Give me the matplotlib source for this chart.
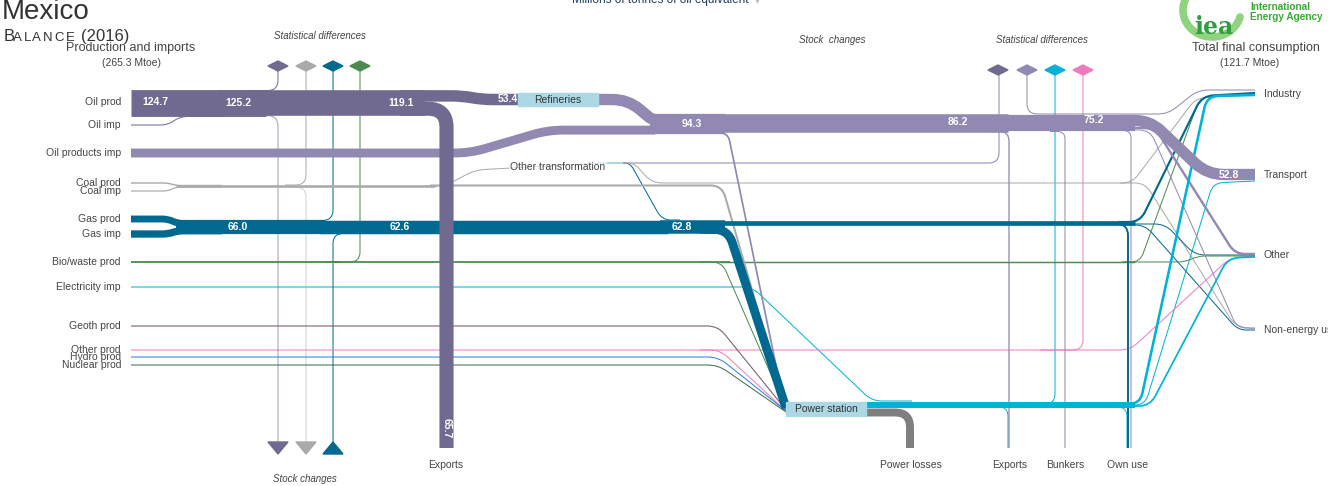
import numpy as np
import matplotlib
matplotlib.use('Agg')
import matplotlib.pyplot as plt
from matplotlib.path import Path
from matplotlib.patches import PathPatch, Rectangle, Polygon

plt.rcParams['font.family'] = ['Liberation Sans', 'DejaVu Sans']

# %% data, Mtoe
country, year = 'Mexico', 2016
total_supply, total_tfc = 265.3, 121.7

source_labels = ['Oil prod', 'Oil imp', 'Oil products imp', 'Coal prod', 'Coal imp',
                 'Gas prod', 'Gas imp', 'Bio/waste prod', 'Electricity imp',
                 'Geoth prod', 'Other prod', 'Hydro prod', 'Nuclear prod']
sink_labels = ['Industry', 'Transport', 'Other', 'Non-energy use']
bottom_labels = ['Exports', 'Power losses', 'Exports', 'Bunkers', 'Own use']

crude = {'oil_prod': 124.7, 'oil_imp': 0.5, 'crude_a': 125.2, 'crude_stat': 0.5,
         'crude_stock': 5.6, 'crude_b': 119.1, 'crude_ref': 53.4, 'crude_exp': 65.7,
         'crude_ot': 1.0}
products = {'prod_imp': 41.4, 'ref_out': 52.9, 'prod_a': 94.3, 'prod_power': 8.1,
            'prod_b': 86.2, 'prod_exp': 6.0, 'prod_stat': 1.4, 'bunkers': 3.0,
            'prod_c': 75.2, 'prod_trans': 52.8, 'prod_other': 11.0, 'prod_ne': 4.5,
            'prod_own': 2.0}
coal = {'coal_prod': 6.5, 'coal_imp': 5.5, 'coal_a': 12.0, 'coal_stat': 0.3,
        'coal_stock': 0.5, 'coal_ot': 1.5, 'coal_power': 9.5, 'coke_ind': 1.0,
        'coke_ne': 0.3}
gas = {'gas_prod': 32.0, 'gas_imp': 34.0, 'gas_a': 66.0, 'gas_stat': 3.8,
       'gas_stock': 0.4, 'gas_b': 62.6, 'gas_ot': 0.2, 'gas_c': 62.8, 'gas_power': 41.0,
       'gas_d': 21.8, 'gas_own': 9.0, 'gas_ind': 10.0, 'gas_other': 1.5, 'gas_ne': 1.3}
bio = {'bio_a': 8.5, 'bio_stat': 0.3, 'bio_b': 8.2, 'bio_power': 1.4, 'bio_c': 6.8,
       'bio_ind': 3.0, 'bio_other': 3.8}
minor = {'elec_imp': 0.3, 'geoth': 5.0, 'other_prod': 1.3, 'other_power': 0.5,
         'other_stat': 0.3, 'hydro': 2.6, 'nuclear': 2.8}
power = {'elec_out': 27.8, 'losses': 37.0, 'elec_stat': 0.4, 'elec_exp': 0.8,
         'elec_own': 1.5, 'elec_ind': 12.0, 'elec_trans': 0.4, 'elec_other': 8.0}

labelled = ['oil_prod', 'crude_a', 'crude_b', 'crude_ref', 'prod_a', 'prod_b',
            'prod_c', 'prod_trans', 'gas_a', 'gas_b', 'gas_c']

# %% layout (pixels) and styles
K = 0.215  # px per Mtoe
C = dict(crude='#716a90', prod='#9189b1', coal='#aaaaaa', gas='#00698f',
         bio='#4b8b50', elec='#00b3d6', geoth='#7c5d6c', otherp='#f07ac0',
         hydro='#2b7fe0', nuclear='#3f6b4d', losses='#7f7f7f', node='#acd8e5',
         ot='#8c86aa')

ROUTES = {
    'oil_prod': ('crude', [(131, 103), (222, 103)]),
    'oil_imp': ('crude', [(131, 125), (168, 125), (180, 116.5), (222, 116.5)]),
    'crude_a': ('crude', [(218, 103), (266, 103)]),
    'crude_stat': ('crude', [(250, 90.5), (278, 90.5), (278, 66)]),
    'crude_stock': ('crude', [(250, 115.5), (278, 115.5), (278, 442)]),
    'crude_b': ('crude', [(262, 103), (425, 103)]),
    'crude_ref': ('crude', [(400, 95.9), (462, 95.9), (482, 99.5), (522, 99.5)]),
    'crude_exp': ('crude', [(400, 108.7), (446.5, 108.7), (446.5, 448)]),
    'crude_ot': ('ot', [(622, 163), (999, 163), (999, 70)]),
    'prod_imp': ('prod', [(131, 153), (470, 153), (548, 130.1), (655, 130.1)]),
    'ref_out': ('prod', [(596, 99.5), (628, 99.5), (652, 119.7), (660, 119.7)]),
    'prod_a': ('prod', [(650, 124), (725, 124)]),
    'prod_power': ('prod', [(712, 133), (728, 133), (784, 404)]),
    'prod_b': ('prod', [(720, 123), (1008, 123)]),
    'prod_exp': ('prod', [(990, 131.5), (1009, 131.5), (1009, 448)]),
    'prod_stat': ('prod', [(1027, 70), (1027, 114), (1168, 114), (1198, 90), (1255, 90)]),
    'bunkers': ('prod', [(1050, 131.5), (1065, 131.5), (1065, 448)]),
    'prod_c': ('prod', [(1005, 123), (1135, 123)]),
    'prod_trans': ('prod', [(1120, 120.5), (1150, 120.5), (1207, 174.5), (1255, 174.5)]),
    'prod_other': ('prod', [(1125, 128), (1155, 128), (1235, 254), (1255, 254)]),
    'prod_ne': ('prod', [(1125, 130), (1150, 130), (1237, 328), (1255, 328)]),
    'prod_own': ('prod', [(1116, 130.5), (1131, 130.5), (1131, 448)]),
    'coal_prod': ('coal', [(131, 183), (168, 183), (176, 185.5), (222, 185.5)]),
    'coal_imp': ('coal', [(131, 191), (168, 191), (176, 187), (222, 187)]),
    'coal_a': ('coal', [(176, 186), (435, 186)]),
    'coal_stat': ('coal', [(285, 185), (306, 185), (306, 66)]),
    'coal_stock': ('coal', [(285, 187), (306, 187), (306, 442)]),
    'coal_ot': ('coal', [(425, 186), (445, 186), (475, 170), (602, 163)]),
    'coal_power': ('coal', [(430, 185.5), (722, 185.5), (785, 405)]),
    'coke_ind': ('coal', [(620, 163), (634, 163), (652, 183), (1132, 183), (1196, 98), (1255, 95)]),
    'coke_ne': ('coal', [(1120, 183), (1145, 183), (1235, 326), (1255, 329)]),
    'gas_prod': ('gas', [(131, 219), (168, 219), (178, 223.6), (222, 223.6)]),
    'gas_imp': ('gas', [(131, 234), (168, 234), (178, 230.7), (222, 230.7)]),
    'gas_a': ('gas', [(176, 227), (325, 227)]),
    'gas_stat': ('gas', [(300, 220.5), (333, 220.5), (333, 66)]),
    'gas_stock': ('gas', [(333, 442), (333, 233.5), (365, 233.5)]),
    'gas_b': ('gas', [(320, 227), (668, 227)]),
    'gas_ot': ('gas', [(618, 163), (630, 163), (662, 220), (680, 220)]),
    'gas_c': ('gas', [(660, 227), (725, 227)]),
    'gas_power': ('gas', [(700, 229.4), (728, 229.4), (786, 408)]),
    'gas_d': ('gas', [(720, 222.6), (1135, 222.6)]),
    'gas_own': ('gas', [(1080, 224), (1128, 224), (1128, 448)]),
    'gas_ind': ('gas', [(1118, 222), (1140, 222), (1202, 96), (1255, 93)]),
    'gas_other': ('gas', [(1125, 224), (1165, 224), (1195, 255), (1255, 255)]),
    'gas_ne': ('gas', [(1125, 225), (1145, 225), (1238, 330), (1255, 330)]),
    'bio_a': ('bio', [(131, 262), (340, 262)]),
    'bio_stat': ('bio', [(325, 262), (360, 262), (360, 66)]),
    'bio_b': ('bio', [(330, 262), (730, 262)]),
    'bio_power': ('bio', [(700, 262), (722, 262), (786, 409)]),
    'bio_c': ('bio', [(720, 262), (1135, 262)]),
    'bio_ind': ('bio', [(1122, 262), (1140, 262), (1200, 97), (1255, 94)]),
    'bio_other': ('bio', [(1122, 262), (1185, 262), (1198, 256), (1255, 256)]),
    'elec_imp': ('elec', [(131, 287), (752, 287), (872, 401), (912, 401)]),
    'geoth': ('geoth', [(131, 326), (718, 326), (786, 410)]),
    'other_prod': ('otherp', [(131, 350), (1130, 350), (1230, 258), (1255, 256)]),
    'other_power': ('otherp', [(700, 350), (720, 350), (786, 411)]),
    'other_stat': ('otherp', [(1040, 350), (1083, 350), (1083, 70)]),
    'hydro': ('hydro', [(131, 357), (718, 357), (786, 411)]),
    'nuclear': ('nuclear', [(131, 365), (718, 365), (786, 412)]),
    'elec_out': ('elec', [(864, 405), (1135, 405)]),
    'losses': ('losses', [(864, 412.5), (910, 412.5), (910, 448)]),
    'elec_stat': ('elec', [(1055, 70), (1055, 404), (1030, 404)]),
    'elec_exp': ('elec', [(990, 407), (1008, 407), (1008, 448)]),
    'elec_own': ('elec', [(1108, 407), (1127, 407), (1127, 448)]),
    'elec_ind': ('elec', [(1118, 404), (1140, 404), (1207, 96), (1255, 95)]),
    'elec_trans': ('elec', [(1125, 405), (1145, 405), (1213, 183), (1255, 181)]),
    'elec_other': ('elec', [(1125, 406), (1150, 406), (1228, 258), (1255, 257)]),
}
LABEL_POS = {'oil_prod': (142, 102), 'crude_a': (225, 103), 'crude_b': (388, 103),
             'crude_ref': (498, 99), 'prod_a': (682, 124), 'prod_b': (948, 122),
             'prod_c': (1083, 120), 'prod_trans': (1219, 175), 'gas_a': (228, 227),
             'gas_b': (390, 227), 'gas_c': (672, 227)}
FADED = ['crude_stock', 'coal_stock']
source_y = [102, 125, 153, 183, 191, 219, 234, 262, 287, 326, 350, 357, 365]
sink_y = [94, 175, 255, 330]
bottom_x = [446, 911, 1010, 1065, 1128]


def _rounded(pts, r):
    """Polyline -> Path with rounded corners"""
    pts = np.asarray(pts, float)
    verts, codes = [pts[0]], [Path.MOVETO]
    for i in range(1, len(pts) - 1):
        p0, p1, p2 = pts[i - 1], pts[i], pts[i + 1]
        d1, d2 = p1 - p0, p2 - p1
        l1, l2 = np.hypot(*d1), np.hypot(*d2)
        rr = min(r, l1 / 2, l2 / 2)
        verts += [p1 - d1 / l1 * rr, p1, p1 + d2 / l2 * rr]
        codes += [Path.LINETO, Path.CURVE3, Path.CURVE3]
    verts.append(pts[-1])
    codes.append(Path.LINETO)
    return Path(verts, codes)


values = {}
for d in (crude, products, coal, gas, bio, minor, power):
    values.update(d)

fig = plt.figure(figsize=(13.28, 4.86), dpi=100)
ax = fig.add_axes([0, 0, 1, 1])
ax.set_xlim(0, 1328)
ax.set_ylim(486, 0)
ax.axis('off')

# flows, thin ones first
for key in sorted(ROUTES, key=lambda k: values[k]):
    fuel, pts = ROUTES[key]
    v = values[key]
    w = max(v * K, 1.0) * 0.72
    r = 10 + 0.6 * v * K
    ax.add_patch(PathPatch(_rounded(pts, r), fill=False, lw=w, edgecolor=C[fuel],
                           capstyle='butt', joinstyle='round',
                           alpha=0.55 if key in FADED else 1, zorder=2))

# nodes
ax.add_patch(Rectangle((518, 93), 80, 13, color=C['node'], zorder=3))
ax.text(558, 99.5, 'Refineries', ha='center', va='center', fontsize=7.5, color='#333', zorder=4)
ax.add_patch(Rectangle((786, 402), 80, 14, color=C['node'], zorder=3))
ax.text(826, 409, 'Power station', ha='center', va='center', fontsize=7.5, color='#333', zorder=4)
ax.plot([600, 622], [163, 163], color=C['node'], lw=1.5, zorder=3)
ax.text(558, 167, 'Other transformation', ha='center', va='center', fontsize=7.5,
        color='#444', zorder=4,
        bbox=dict(boxstyle='square,pad=0.1', fc='white', ec='none', alpha=0.6))

# diamonds and arrows
for x, fuel in zip([278, 306, 333, 360], ['crude', 'coal', 'gas', 'bio']):
    ax.add_patch(Polygon([(x - 10, 66), (x, 61), (x + 10, 66), (x, 71)], color=C[fuel], zorder=4))
for x, fuel in zip([998, 1027, 1055, 1083], ['crude', 'prod', 'elec', 'otherp']):
    ax.add_patch(Polygon([(x - 10, 70), (x, 65), (x + 10, 70), (x, 75)], color=C[fuel], zorder=4))
for x, fuel, up in zip([278, 306, 333], ['crude', 'coal', 'gas'], [False, False, True]):
    tri = [(x - 10, 454), (x + 10, 454), (x, 442)] if up else [(x - 10, 442), (x + 10, 442), (x, 454)]
    ax.add_patch(Polygon(tri, color=C[fuel], zorder=4))

# flow values
for key in labelled:
    x, y = LABEL_POS[key]
    ax.text(x, y, f'{values[key]:.1f}', ha='left', va='center', fontsize=7.5,
            fontweight='bold', color='white', zorder=5)
ax.text(446.5, 428, f"{crude['crude_exp']:.1f}", ha='center', va='center', rotation=270,
        fontsize=7.5, fontweight='bold', color='white', zorder=5)

# axis labels
for lab, y in zip(source_labels, source_y):
    ax.text(121, y, lab, ha='right', va='center', fontsize=7.5, color='#444')
for lab, y in zip(sink_labels, sink_y):
    ax.text(1264, y, lab, ha='left', va='center', fontsize=7.5, color='#444')
for lab, x in zip(bottom_labels, bottom_x):
    ax.text(x, 465, lab, ha='center', va='center', fontsize=7.5, color='#444')

for x, y, s in [(320, 36, 'Statistical differences'), (1042, 40, 'Statistical differences'),
                (832, 40, 'Stock  changes'), (305, 479, 'Stock changes')]:
    ax.text(x, y, s, ha='center', va='center', fontsize=7, style='italic', color='#444')

# titles
ax.text(2, 19, country, fontsize=20, color='#333', va='baseline')
ax.text(4, 41, 'B', fontsize=12, color='#333', va='baseline')
for ch, x in zip('ALANCE', [13, 23.5, 31.5, 43, 54, 66]):
    ax.text(x, 41, ch, fontsize=9.5, color='#333', va='baseline')
ax.text(81, 41, f'({year})', fontsize=12, color='#333', va='baseline')
ax.text(131, 48, 'Production and imports', ha='center', va='center', fontsize=9, color='#444')
ax.text(131, 63, f'({total_supply} Mtoe)', ha='center', va='center', fontsize=7.5, color='#444')
ax.text(1256, 48, 'Total final consumption', ha='center', va='center', fontsize=9, color='#444')
ax.text(1250, 63, f'({total_tfc} Mtoe)', ha='center', va='center', fontsize=7.5, color='#444')
ax.text(660, 3, 'Millions of tonnes of oil equivalent', ha='center', va='baseline',
        fontsize=8.5, color='#1f3a5f')
ax.text(757, 3, '\u25be', ha='center', va='baseline', fontsize=7, color='#bbb')

# iea logo
th = np.radians(np.linspace(70, 345, 80))
ax.plot(1212 + 29 * np.cos(th), 10 - 27 * np.sin(th), color='#8fd27f', lw=5.5,
        solid_capstyle='round', zorder=6)
ax.text(1214, 27, 'iea', ha='center', va='center', fontsize=17, fontweight='bold',
        family='DejaVu Serif', color='#2f9e3f', zorder=7)
ax.text(1250, 7, 'International', ha='left', va='center', fontsize=7.2,
        fontweight='semibold', color='#3aaa35')
ax.text(1250, 17, 'Energy Agency', ha='left', va='center', fontsize=7.2,
        fontweight='semibold', color='#3aaa35')

fig.savefig('out.png', dpi=100)
